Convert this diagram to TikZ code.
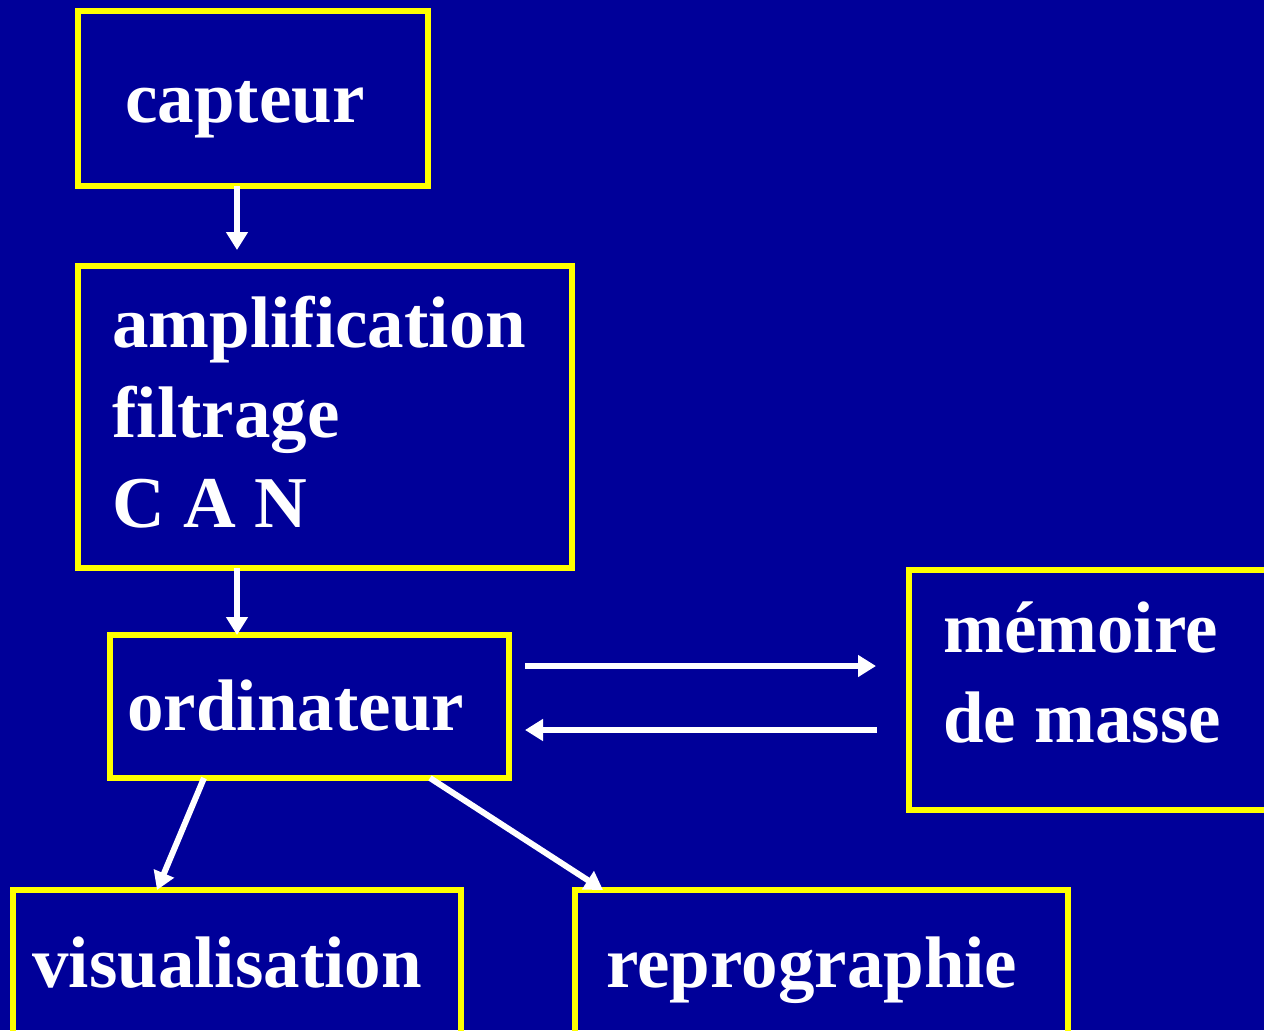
\documentclass[tikz,border=0pt]{standalone}
\usepackage{fontspec}
\setmainfont{Liberation Serif}
\usetikzlibrary{arrows.meta}
\definecolor{bgblue}{RGB}{0,0,153}
\definecolor{boxyellow}{RGB}{255,255,0}
\begin{document}
\begin{tikzpicture}[x=0.5pt,y=-0.5pt,
  box/.style={draw=boxyellow,line width=3pt,rectangle,inner sep=0pt,outer sep=0pt,anchor=north west},
  lbl/.style={text=white,font=\fontsize{36.5}{45}\selectfont\bfseries,anchor=base west,inner sep=0pt,align=left},
  arr/.style={draw=white,line width=3pt,-{Triangle[width=10.5pt,length=9pt]}}]
\fill[bgblue] (0,0) rectangle (1264,1030);
\useasboundingbox (0,0) rectangle (1264,1030);
\begin{scope}
\clip (0,0) rectangle (1264,1030);
\node[box,minimum width=175pt,minimum height=87.5pt] (cap) at (78,11) {};
\node[box,minimum width=247pt,minimum height=151pt] (amp) at (78,266) {};
\node[box,minimum width=199.5pt,minimum height=71.5pt] (ord) at (110,635) {};
\node[box,minimum width=190pt,minimum height=120pt] (mem) at (909,570) {};
\node[box,minimum width=224pt,minimum height=90pt] (vis) at (13,890) {};
\node[box,minimum width=246.5pt,minimum height=90pt] (rep) at (575,890) {};
\end{scope}
\node[lbl] (tcap) at (125,122) {capteur};
\node[lbl,anchor=north west] (tamp) at (112,296) {amplification\\filtrage\\C A N};
\node[lbl] (tord) at (127,730) {ordinateur};
\node[lbl,anchor=north west] (tmem) at (943,601) {mémoire\\de masse};
\node[lbl] (tvis) at (32,987) {visualisation};
\node[lbl] (trep) at (606,987) {reprographie};
\draw[arr] ([xshift=79.5pt]cap.south west) -- ([xshift=79.5pt,yshift=8pt]amp.north west);
\draw[arr] ([xshift=79.5pt]amp.south west) -- ([xshift=63.5pt]ord.north west);
\draw[arr] ([shift={(16,31)}]ord.north east) -- ([shift={(-33,96)}]mem.north west);
\draw[arr] ([shift={(-32,160)}]mem.north west) -- ([shift={(16,95)}]ord.north east);
\draw[arr] ([xshift=47pt]ord.south west) -- ([xshift=72pt]vis.north west);
\draw[arr] ([xshift=160pt]ord.south west) -- ([xshift=14pt]rep.north west);
\end{tikzpicture}
\end{document}
